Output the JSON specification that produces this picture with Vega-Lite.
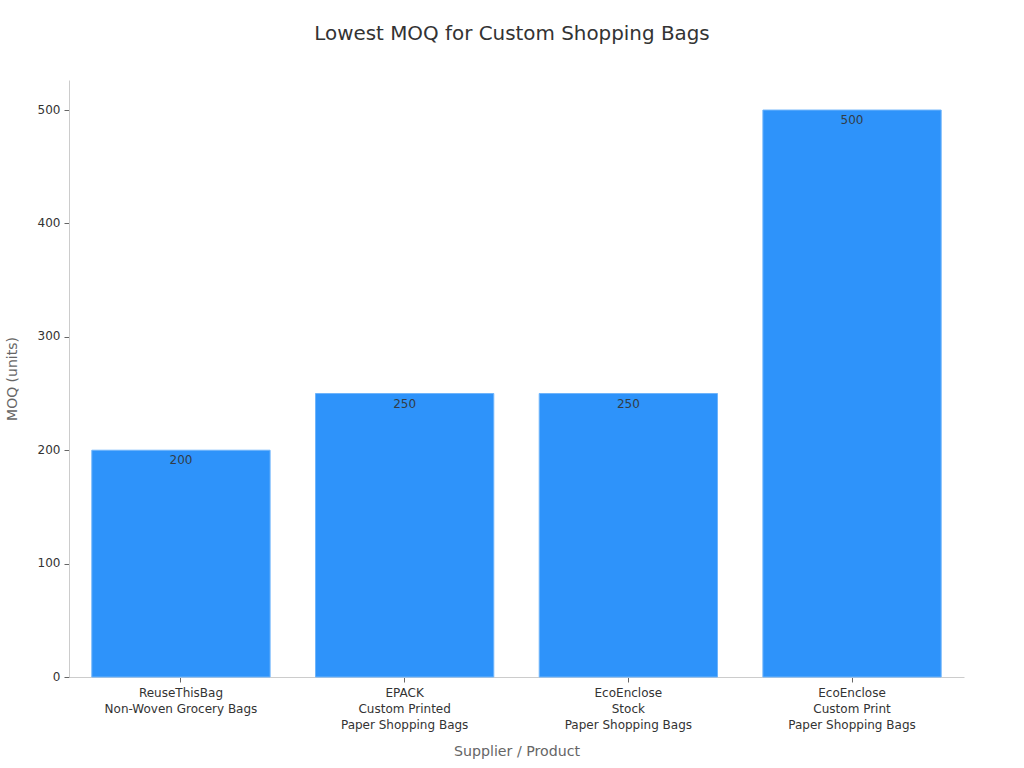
{
  "$schema": "https://vega.github.io/schema/vega-lite/v6.json",
  "width": 895,
  "height": 597,
  "autosize": "none",
  "padding": {"left": 69, "top": 80, "right": 60, "bottom": 91},
  "background": "white",
  "title": {
    "text": "Lowest MOQ for Custom Shopping Bags",
    "font": "DejaVu Sans",
    "fontSize": 19.9,
    "fontWeight": "normal",
    "color": "#333333",
    "anchor": "middle",
    "dx": -4.5,
    "offset": 36
  },
  "config": {
    "font": "DejaVu Sans",
    "view": {"stroke": null}
  },
  "data": {
    "values": [
      {"product": "ReuseThisBag|Non-Woven Grocery Bags", "moq": 200},
      {"product": "EPACK|Custom Printed|Paper Shopping Bags", "moq": 250},
      {"product": "EcoEnclose|Stock|Paper Shopping Bags", "moq": 250},
      {"product": "EcoEnclose|Custom Print|Paper Shopping Bags", "moq": 500}
    ]
  },
  "encoding": {
    "x": {
      "field": "product",
      "type": "nominal",
      "sort": null,
      "scale": {"paddingInner": 0.203, "paddingOuter": 0.102},
      "axis": {
        "title": "Supplier / Product",
        "titleFont": "DejaVu Sans",
        "titleFontSize": 14.2,
        "titleFontWeight": "normal",
        "titleColor": "#666666",
        "titlePadding": 14,
        "labelExpr": "split(datum.label, '|')",
        "labelAngle": 0,
        "labelFontSize": 12,
        "labelColor": "#333333",
        "labelLineHeight": 16,
        "labelPadding": 5,
        "labelLimit": 300,
        "domainColor": "#cccccc",
        "tickColor": "#666666",
        "tickSize": 5
      }
    },
    "y": {
      "field": "moq",
      "type": "quantitative",
      "scale": {"domain": [0, 526.5], "nice": false},
      "axis": {
        "title": "MOQ (units)",
        "titleFont": "DejaVu Sans",
        "titleFontSize": 14,
        "titleFontWeight": "normal",
        "titleColor": "#666666",
        "titlePadding": 18,
        "values": [0, 100, 200, 300, 400, 500],
        "grid": false,
        "labelFontSize": 12,
        "labelColor": "#333333",
        "labelPadding": 4,
        "labelOffset": -1,
        "domainColor": "#cccccc",
        "tickColor": "#666666",
        "tickSize": 5
      }
    }
  },
  "layer": [
    {
      "mark": {"type": "bar", "fill": "#2e93fa", "stroke": "#6eb4fb", "strokeWidth": 1}
    },
    {
      "mark": {
        "type": "text",
        "baseline": "top",
        "dy": 5,
        "fontSize": 12,
        "color": "#333333",
        "opacity": 0.9
      },
      "encoding": {"text": {"field": "moq", "type": "quantitative"}}
    }
  ]
}
